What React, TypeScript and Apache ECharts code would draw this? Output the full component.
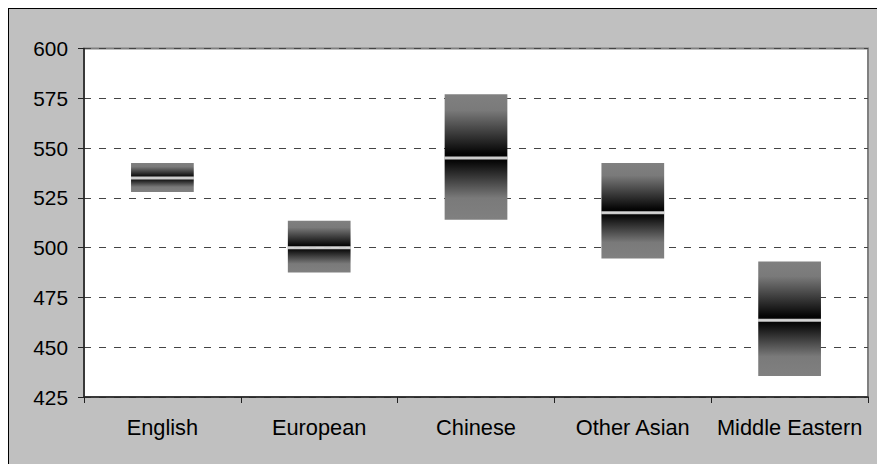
import React, { useEffect, useRef } from "react";
import * as echarts from "echarts";

const categories = ["English", "European", "Chinese", "Other Asian", "Middle Eastern"];
const lowValues = [528, 487.5, 514, 494.5, 435.5];
const medianValues = [535, 500, 545, 517.5, 463.5];
const highValues = [542.5, 513.5, 577, 542.5, 493];
const yTicks = [425, 450, 475, 500, 525, 550, 575, 600];

export default function App() {
  const ref = useRef<HTMLDivElement>(null);
  useEffect(() => {
    if (!ref.current) return;
    const chart = echarts.init(ref.current, undefined, { renderer: "svg" });
    const font = "'Liberation Sans', Arial, sans-serif";
    const lowerSeg = medianValues.map((m, i) => +(m - lowValues[i]).toFixed(2));
    const upperSeg = highValues.map((h, i) => +(h - medianValues[i]).toFixed(2));
    const upperGrad = new echarts.graphic.LinearGradient(0, 0, 0, 1, [
      { offset: 0, color: "#808080" },
      { offset: 0.25, color: "#7a7a7a" },
      { offset: 0.92, color: "#060606" },
      { offset: 1, color: "#000000" },
    ]);
    const lowerGrad = new echarts.graphic.LinearGradient(0, 0, 0, 1, [
      { offset: 0, color: "#000000" },
      { offset: 0.08, color: "#0c0c0c" },
      { offset: 0.65, color: "#7a7a7a" },
      { offset: 1, color: "#808080" },
    ]);
    chart.setOption({
      animation: false,
      backgroundColor: "#c0c0c0",
      grid: {
        left: 75,
        top: 39.5,
        right: 9,
        bottom: 67,
        show: true,
        backgroundColor: "#ffffff",
        borderColor: "#808080",
        borderWidth: 2,
      },
      xAxis: {
        type: "category",
        data: categories,
        axisLine: { show: true, lineStyle: { color: "#222", width: 1.5 } },
        axisTick: { show: true, length: 6, lineStyle: { color: "#222" } },
        axisLabel: { color: "#000", fontSize: 21.8, fontFamily: font, margin: 19, interval: 0 },
        splitLine: { show: false },
      },
      yAxis: {
        type: "value",
        min: 425,
        max: 600,
        interval: 25,
        axisLine: { show: true, lineStyle: { color: "#222", width: 1.5 } },
        axisTick: { show: true, length: 6, lineStyle: { color: "#222" } },
        axisLabel: {
          color: "#000",
          fontSize: 20.8,
          fontFamily: font,
          margin: 16,
          formatter: (v: number) => (yTicks.includes(v) ? String(v) : ""),
        },
        splitLine: {
          show: true,
          lineStyle: { color: "#444", type: [7, 8], width: 1 },
        },
      },
      series: [
        {
          type: "bar",
          stack: "box",
          data: lowValues,
          barWidth: "40%",
          itemStyle: { color: "transparent" },
          silent: true,
        },
        {
          type: "bar",
          stack: "box",
          data: lowerSeg,
          barWidth: "40%",
          itemStyle: { color: lowerGrad },
        },
        {
          type: "bar",
          stack: "box",
          data: upperSeg,
          barWidth: "40%",
          itemStyle: { color: upperGrad },
        },
        {
          type: "scatter",
          data: medianValues,
          symbol: "rect",
          symbolSize: [63, 3],
          itemStyle: { color: "#ffffff" },
          z: 5,
        },
      ],
    });
    return () => chart.dispose();
  }, []);
  return (
    <div
      ref={ref}
      style={{
        position: "absolute",
        left: 8,
        top: 8,
        width: 869,
        height: 456,
        borderTop: "1px solid #000",
        borderLeft: "1px solid #000",
        boxSizing: "border-box",
      }}
    />
  );
}
